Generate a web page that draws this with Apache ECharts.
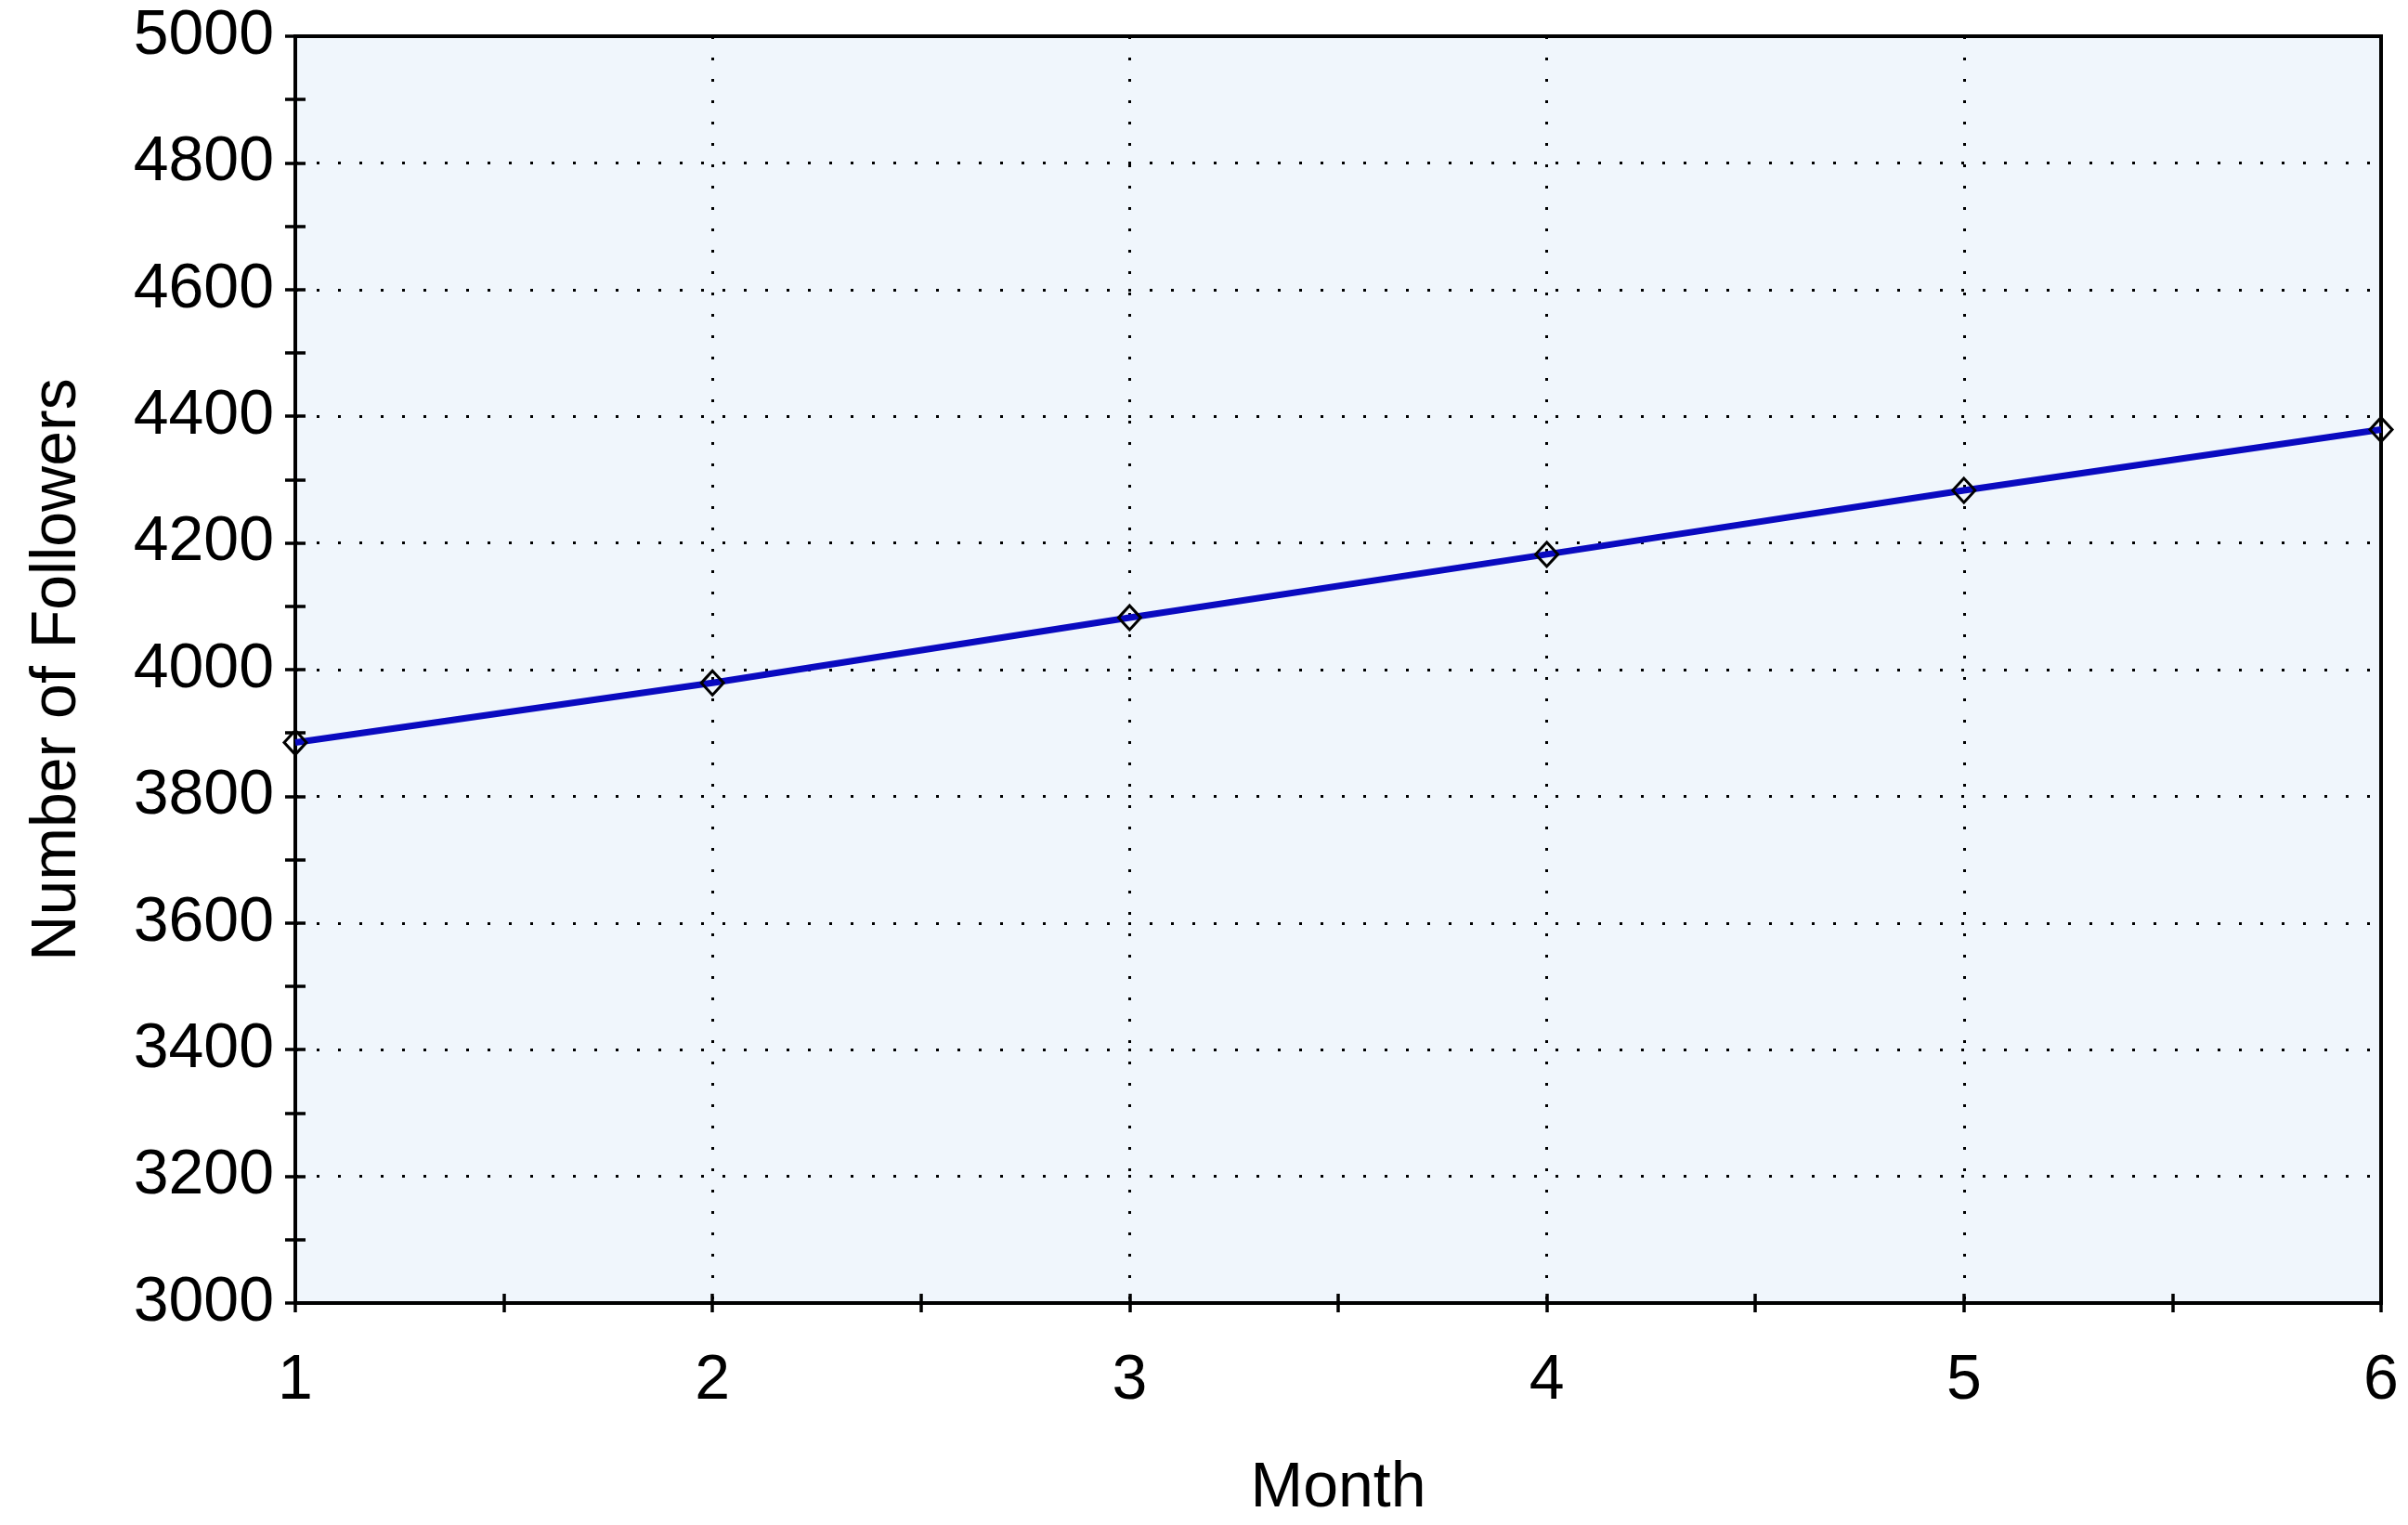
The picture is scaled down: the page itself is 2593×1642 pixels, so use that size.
<!DOCTYPE html>
<html>
<head>
<meta charset="utf-8">
<script src="https://cdn.jsdelivr.net/npm/echarts@6/dist/echarts.min.js"></script>
<style>
  html, body { margin: 0; padding: 0; background: #ffffff; }
  #chart { width: 2593px; height: 1642px; }
</style>
</head>
<body>
<div id="chart"></div>
<script>
// Data
const months = [1, 2, 3, 4, 5, 6];
const followers = [3885, 3979, 4082, 4182, 4283, 4379];
const xAxisTitle = 'Month';
const yAxisTitle = 'Number of Followers';
const yMin = 3000, yMax = 5000, yStep = 200;
const xMin = 1, xMax = 6, xStep = 1;

const seriesData = months.map((m, i) => [m, followers[i]]);

const font = '"Liberation Sans", Arial, sans-serif';
const dotted = { color: '#000', width: 3, type: [3, 20] };
const axisLineStyle = { color: '#000', width: 4 };
const tickStyle = { color: '#000', width: 3.5 };

const chart = echarts.init(document.getElementById('chart'), null, { renderer: 'canvas' });
chart.setOption({
  animation: false,
  backgroundColor: '#ffffff',
  grid: {
    left: 318, top: 39, right: 29, bottom: 239,
    show: true,
    backgroundColor: '#F0F6FC',
    borderColor: '#000',
    borderWidth: 4
  },
  xAxis: [
    {
      type: 'value', min: xMin, max: xMax, interval: xStep,
      name: xAxisTitle, nameLocation: 'middle', nameGap: 166,
      nameTextStyle: { fontFamily: font, fontSize: 68, color: '#000' },
      axisLine: { show: true, lineStyle: axisLineStyle },
      axisTick: { show: true, length: 10, lineStyle: tickStyle },
      minorTick: { show: true, splitNumber: 2, length: 10, lineStyle: tickStyle },
      axisLabel: { fontFamily: font, fontSize: 68, color: '#000', margin: 50, formatter: v => String(v) },
      splitLine: { show: true, lineStyle: dotted }
    },
    {
      type: 'value', min: xMin, max: xMax, interval: xStep, position: 'bottom', offset: 0,
      axisLine: { show: false },
      axisTick: { show: true, inside: true, length: 10, lineStyle: tickStyle },
      minorTick: { show: true, splitNumber: 2, length: 10, lineStyle: tickStyle },
      axisLabel: { show: false },
      splitLine: { show: false }
    }
  ],
  yAxis: [
    {
      type: 'value', min: yMin, max: yMax, interval: yStep,
      name: yAxisTitle, nameLocation: 'middle', nameGap: 222, nameRotate: 90,
      nameTextStyle: { fontFamily: font, fontSize: 68, color: '#000' },
      axisLine: { show: true, lineStyle: axisLineStyle },
      axisTick: { show: true, length: 11, lineStyle: tickStyle },
      minorTick: { show: true, splitNumber: 2, length: 11, lineStyle: tickStyle },
      axisLabel: { fontFamily: font, fontSize: 68, color: '#000', margin: 23, formatter: v => String(v) },
      splitLine: { show: true, lineStyle: dotted }
    },
    {
      type: 'value', min: yMin, max: yMax, interval: yStep, position: 'left', offset: 0,
      axisLine: { show: false },
      axisTick: { show: true, inside: true, length: 11, lineStyle: tickStyle },
      minorTick: { show: true, splitNumber: 2, length: 11, lineStyle: tickStyle },
      axisLabel: { show: false },
      splitLine: { show: false }
    }
  ],
  series: [
    {
      type: 'line',
      data: seriesData,
      xAxisIndex: 0, yAxisIndex: 0,
      lineStyle: { color: '#0A0AC0', width: 7 },
      symbol: 'diamond',
      symbolSize: [24, 26],
      itemStyle: { color: 'rgba(0,0,0,0)', borderColor: '#000', borderWidth: 3 },
      z: 5
    }
  ]
});
</script>
</body>
</html>
